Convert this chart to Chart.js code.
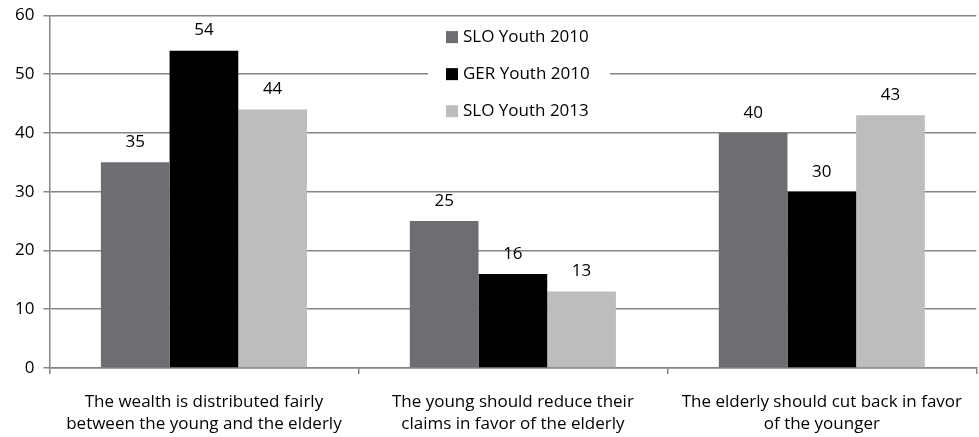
<!DOCTYPE html>
<html>
<head>
<meta charset="utf-8">
<script src="https://cdn.jsdelivr.net/npm/chart.js@4"></script>
<style>
  html, body { margin: 0; padding: 0; background: #fff; }
  #wrap { width: 979px; height: 437px; }
</style>
</head>
<body>
<div id="wrap"><canvas id="myChart" width="979" height="437"></canvas></div>
<script>
var categories = [
  ['The wealth is distributed fairly', 'between the young and the elderly'],
  ['The young should reduce their', 'claims in favor of the elderly'],
  ['The elderly should cut back in favor', 'of the younger']
];
var sloYouth2010 = [35, 25, 40];
var gerYouth2010 = [54, 16, 30];
var sloYouth2013 = [44, 13, 43];
var seriesNames = ['SLO Youth 2010', 'GER Youth 2010', 'SLO Youth 2013'];
var seriesColors = ['#6d6e71', '#000000', '#bcbdbf'];
var yTicks = [0, 10, 20, 30, 40, 50, 60];

var FONT = '"Open Sans", sans-serif';
var FSIZE = 17;
var gridColor = '#858585';

// value labels above each bar
var valueLabels = {
  id: 'valueLabels',
  afterDatasetsDraw: function(chart) {
    var ctx = chart.ctx;
    ctx.save();
    ctx.font = FSIZE + 'px ' + FONT;
    ctx.fillStyle = '#000';
    ctx.textAlign = 'center';
    ctx.textBaseline = 'middle';
    chart.data.datasets.forEach(function(ds, i) {
      var meta = chart.getDatasetMeta(i);
      meta.data.forEach(function(bar, j) {
        ctx.fillText(ds.data[j], bar.x, bar.y - 20);
      });
    });
    ctx.restore();
  }
};

// legend box sitting inside the plot, covers the grid lines
var boxLegend = {
  id: 'boxLegend',
  beforeDatasetsDraw: function(chart) {
    var ctx = chart.ctx;
    var yScale = chart.scales.y;
    var left = 428, right = 610;
    var top = yScale.getPixelForValue(59), bottom = yScale.getPixelForValue(41);
    ctx.save();
    ctx.fillStyle = '#fff';
    ctx.fillRect(left, top, right - left, bottom - top);
    ctx.font = FSIZE + 'px ' + FONT;
    ctx.textBaseline = 'middle';
    ctx.textAlign = 'left';
    var rows = [yScale.getPixelForValue(56.3), yScale.getPixelForValue(50), yScale.getPixelForValue(43.7)];
    chart.data.datasets.forEach(function(ds, i) {
      ctx.fillStyle = ds.backgroundColor;
      ctx.fillRect(446, rows[i] - 6, 12, 12);
      ctx.fillStyle = '#000';
      ctx.fillText(ds.label, 463, rows[i]);
    });
    ctx.restore();
  }
};

var ctx = document.getElementById('myChart');
var chart = new Chart(ctx, {
  type: 'bar',
  data: {
    labels: categories,
    datasets: [
      { label: seriesNames[0], data: sloYouth2010, backgroundColor: seriesColors[0] },
      { label: seriesNames[1], data: gerYouth2010, backgroundColor: seriesColors[1] },
      { label: seriesNames[2], data: sloYouth2013, backgroundColor: seriesColors[2] }
    ]
  },
  options: {
    responsive: false,
    animation: false,
    layout: { padding: { top: 0, right: 0, bottom: 0, left: 6 } },
    datasets: {
      bar: { categoryPercentage: 0.667, barPercentage: 1.0 }
    },
    plugins: {
      legend: { display: false },
      tooltip: { enabled: false }
    },
    scales: {
      x: {
        afterFit: function(scale) { scale.height = 69; },
        grid: {
          display: true,
          offset: true,
          drawOnChartArea: false,
          drawTicks: true,
          tickLength: 6,
          color: gridColor,
          lineWidth: 1.5
        },
        border: { color: gridColor, width: 1.5 },
        ticks: {
          color: '#000',
          font: { family: FONT, size: FSIZE, lineHeight: 1.3 },
          padding: 17,
          maxRotation: 0,
          autoSkip: false
        }
      },
      y: {
        min: 0,
        max: 60,
        afterBuildTicks: function(scale) {
          scale.ticks = yTicks.map(function(v) { return { value: v }; });
        },
        grid: {
          color: gridColor,
          lineWidth: 1.5,
          tickLength: 6
        },
        border: { color: gridColor, width: 1.5 },
        ticks: {
          color: '#000',
          font: { family: FONT, size: FSIZE, lineHeight: 0.75 },
          padding: 9
        }
      }
    }
  },
  plugins: [boxLegend, valueLabels]
});
</script>
</body>
</html>
